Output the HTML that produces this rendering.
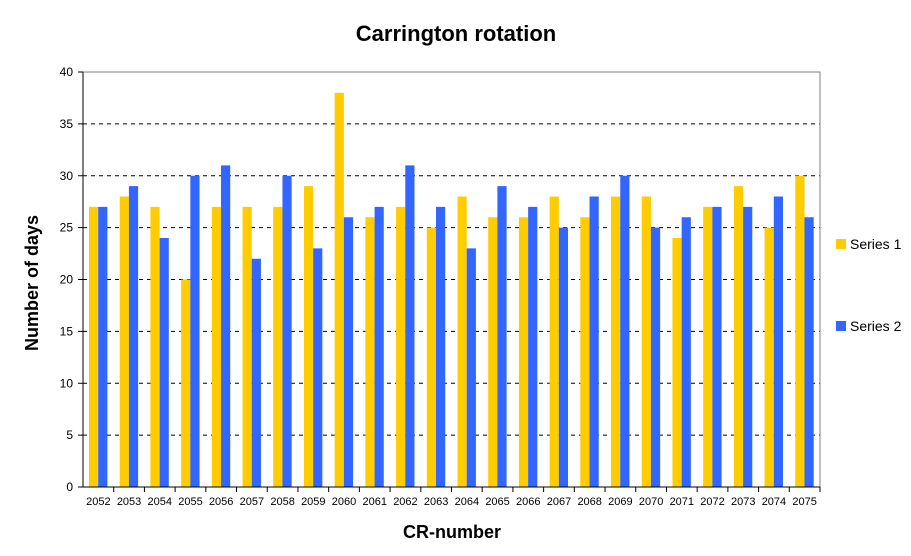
<!DOCTYPE html>
<html><head><meta charset="utf-8"><style>
body{margin:0;background:#fff;}
svg{display:block;font-family:"Liberation Sans",Arial,sans-serif;}
</style></head><body>
<svg id="chart" width="911" height="556" xmlns="http://www.w3.org/2000/svg">
<text x="456" y="41" text-anchor="middle" font-size="22" font-weight="bold">Carrington rotation</text>
<text transform="translate(38,283) rotate(-90)" text-anchor="middle" font-size="18" font-weight="bold">Number of days</text>
<text x="452" y="538" text-anchor="middle" font-size="18" font-weight="bold">CR-number</text>
<g id="grid"></g><g id="bars"></g><g id="axes"></g>
<g>
<rect x="836" y="239" width="10" height="10" fill="#ffcc00"/>
<text x="850" y="249" font-size="14">Series 1</text>
<rect x="836" y="321" width="10" height="10" fill="#3366ff"/>
<text x="850" y="331" font-size="14">Series 2</text>
</g>
</svg>
<script>
const categories=["2052","2053","2054","2055","2056","2057","2058","2059","2060","2061","2062","2063","2064","2065","2066","2067","2068","2069","2070","2071","2072","2073","2074","2075"];
const series1=[27,28,27,20,27,27,27,29,38,26,27,25,28,26,26,28,26,28,28,24,27,29,25,30];
const series2=[27,29,24,30,31,22,30,23,26,27,31,27,23,29,27,25,28,30,25,26,27,27,28,26];
const yTicks=[0,5,10,15,20,25,30,35,40];
const L=83,R=820,T=72,B=487,yMax=40;
const NS="http://www.w3.org/2000/svg";
const bw=(R-L)/categories.length;
const y=v=>B-(v/yMax)*(B-T);
const x=i=>L+i*bw;
function mk(tag,attrs,parent){const e=document.createElementNS(NS,tag);for(const k in attrs)e.setAttribute(k,attrs[k]);document.getElementById(parent).appendChild(e);return e;}
yTicks.forEach(t=>{
  if(t>0&&t<yMax){const g=mk('line',{x1:L,x2:R,y1:y(t),y2:y(t),stroke:'#000','stroke-dasharray':'4,4','stroke-width':1},'grid');
  
  }
  const tk=mk('line',{x1:L-5,x2:L,y1:y(t),y2:y(t),stroke:'#000'},'axes');
  
  
  const tl=mk('text',{x:L-10,y:y(t)+4,'text-anchor':'end','font-size':12},'axes');
  tl.textContent=t;
  
  
});
const frame=mk('path',{d:`M${L},${T}H${R}V${B}`,fill:'none',stroke:'#808080'},'axes');


const ax=mk('path',{d:`M${L},${T}V${B}H${R}`,fill:'none',stroke:'#000'},'axes');


categories.forEach((c,i)=>{
  const b1=mk('rect',{x:x(i)+6,y:y(series1[i]),width:9.2,height:B-y(series1[i]),fill:'#ffcc00'},'bars');
  
  
  const b2=mk('rect',{x:x(i)+15.2,y:y(series2[i]),width:9.2,height:B-y(series2[i]),fill:'#3366ff'},'bars');
  
  
  const tk=mk('line',{x1:x(i+1),x2:x(i+1),y1:B,y2:B+5,stroke:'#000'},'axes');
  
  
  const tl=mk('text',{x:x(i)+bw/2,y:B+18,'text-anchor':'middle','font-size':11},'axes');
  tl.textContent=c;
  
  
});
</script>
</body></html>
